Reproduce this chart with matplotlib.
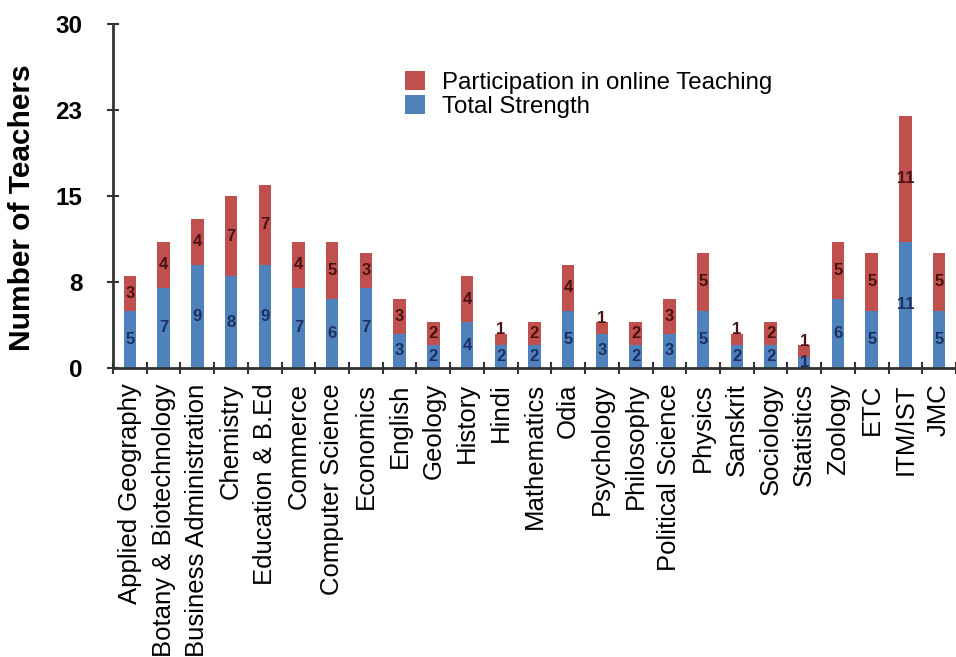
import matplotlib
matplotlib.use("Agg")
import matplotlib.pyplot as plt
import numpy as np

plt.rcParams['font.family'] = ['Liberation Sans', 'DejaVu Sans']

departments = [
    "Applied Geography", "Botany & Biotechnology", "Business Administration",
    "Chemistry", "Education & B.Ed", "Commerce", "Computer Science",
    "Economics", "English", "Geology", "History", "Hindi", "Mathematics",
    "Odia", "Psychology", "Philosophy", "Political Science", "Physics",
    "Sanskrit", "Sociology", "Statistics", "Zoology", "ETC", "ITM/IST", "JMC",
]
total_strength = [5, 7, 9, 8, 9, 7, 6, 7, 3, 2, 4, 2, 2, 5, 3, 2, 3, 5, 2, 2, 1, 6, 5, 11, 5]
online_teaching = [3, 4, 4, 7, 7, 4, 5, 3, 3, 2, 4, 1, 2, 4, 1, 2, 3, 5, 1, 2, 1, 5, 5, 11, 5]

y_ticks = [0, 7.5, 15, 22.5, 30]
y_tick_labels = ["0", "8", "15", "23", "30"]

BLUE = "#4F81BD"
RED = "#C0504D"

W, H = 956, 657
fig = plt.figure(figsize=(W / 100, H / 100), dpi=100)
ax_left, ax_right = 113, 956
ax_top, ax_bottom = 24, 368
ax = fig.add_axes([ax_left / W, 1 - ax_bottom / H,
                   (ax_right - ax_left) / W, (ax_bottom - ax_top) / H])

x = np.arange(len(departments))
base = np.array(total_strength)
top = np.array(online_teaching)
bw = 0.37
b1 = ax.bar(x, base, width=bw, color=BLUE, label="Total Strength", zorder=2)
b2 = ax.bar(x, top, width=bw, bottom=base, color=RED,
            label="Participation in online Teaching", zorder=2)

# segment value labels
for xi, v1, v2 in zip(x, base, top):
    ax.text(xi, v1 / 2, str(v1), ha="center", va="center", fontsize=12,
            fontweight="bold", color="#1d3161", zorder=3)
    if v2 == 1:
        yy = v1 + v2 + 0.35
    else:
        yy = v1 + v2 / 2
    ax.text(xi, yy, str(v2), ha="center", va="center", fontsize=12,
            fontweight="bold", color="#4a1212", zorder=3)

ax.set_ylim(0, 30)
step = 843 / 33.95
ax.set_xlim(-0.5, -0.5 + step)

ax.set_yticks(y_ticks)
ax.set_yticklabels(y_tick_labels, fontsize=17.5, fontweight="bold")
ax.tick_params(axis="y", direction="inout", length=8, width=1.5,
               color="#333333", pad=18)

# category labels at bar centres, tick marks at boundaries
ax.set_xticks(x)
ax.set_xticklabels(departments, rotation=90, fontsize=18.5)
ax.tick_params(axis="x", which="major", length=0, pad=11)
ax.set_xticks(np.arange(len(departments) + 1) - 0.5, minor=True)
ax.tick_params(axis="x", which="minor", direction="inout", length=8,
               width=1.5, color="#333333")

for s in ("top", "right"):
    ax.spines[s].set_visible(False)
for s in ("left", "bottom"):
    ax.spines[s].set_linewidth(2)
    ax.spines[s].set_color("#333333")

fig.text(22 / W, 1 - 208 / H, "Number of Teachers", rotation=90,
         ha="center", va="center", fontsize=21.5, fontweight="bold")

fig.legend([b2, b1], ["Participation in online Teaching", "Total Strength"],
           loc="upper left", bbox_to_anchor=(405 / W, 1 - 71 / H),
           frameon=False, fontsize=17.3, handlelength=0.85, handleheight=0.85,
           handletextpad=0.7, labelspacing=0.05, borderpad=0, borderaxespad=0)

fig.savefig("out.png", dpi=100)
